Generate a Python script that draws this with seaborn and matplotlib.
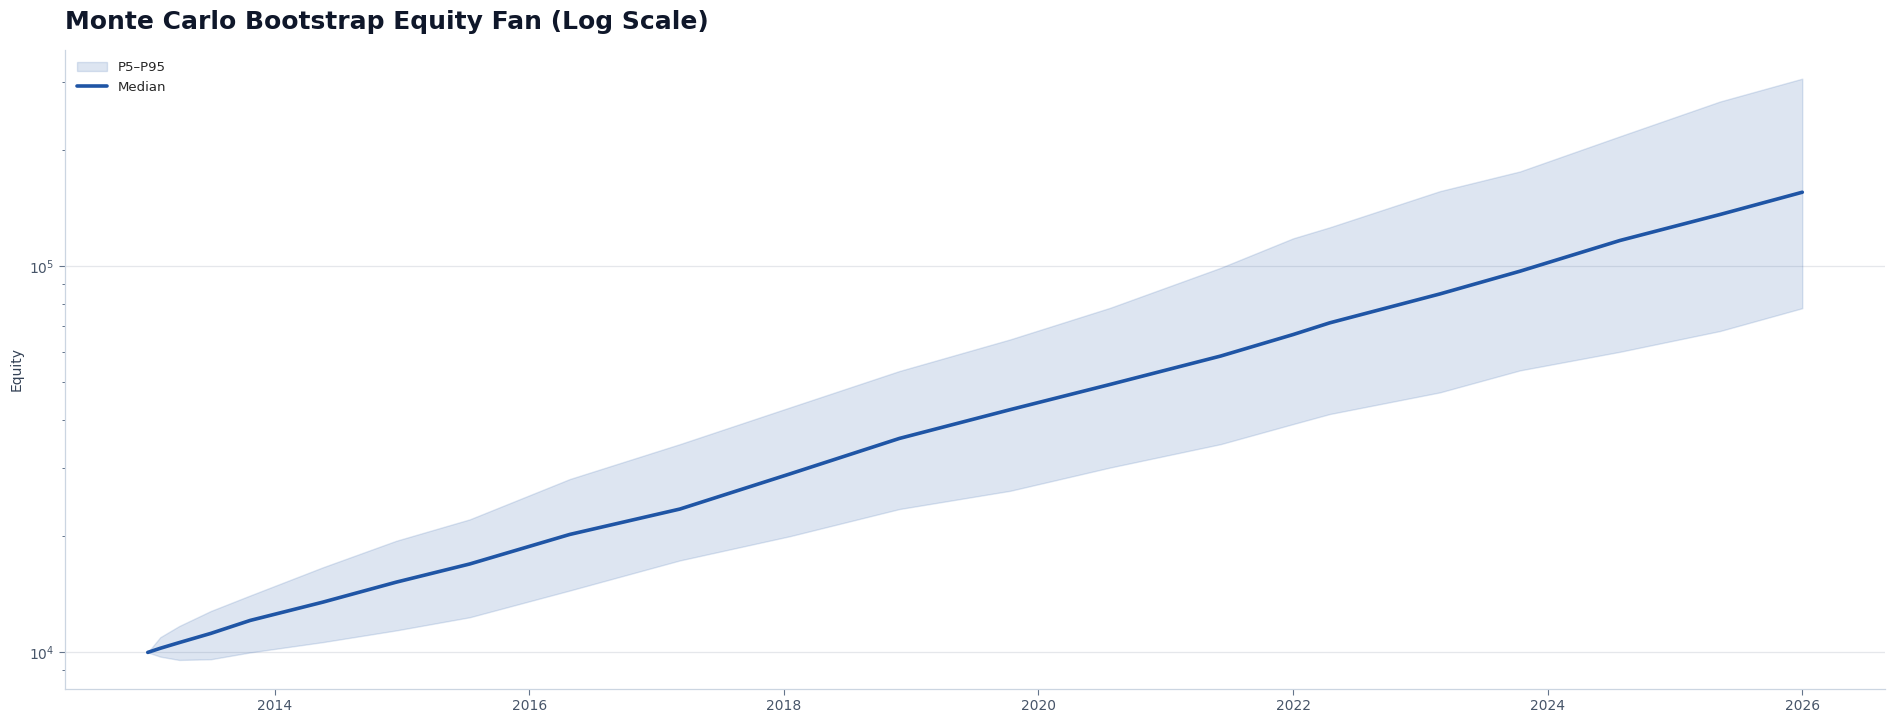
import pandas as pd
import numpy as np
import matplotlib
matplotlib.use("Agg")
import matplotlib.pyplot as plt
import matplotlib.dates as mdates
import seaborn as sns

# ==========================================
# data
# ==========================================
dates = [
    "2013-01-01", "2013-02-06", "2013-04-01", "2013-07-01", "2013-10-22",
    "2014-05-18", "2014-12-15", "2015-07-14", "2016-04-26", "2017-03-08",
    "2018-01-19", "2018-11-28", "2019-10-12", "2020-07-25", "2021-06-07",
    "2022-01-01", "2022-04-16", "2023-02-26", "2023-10-14", "2024-07-27",
    "2025-05-10", "2026-01-01",
]
p5 = [
    10000, 9750, 9560, 9600, 10000,
    10630, 11400, 12330, 14460, 17300,
    20000, 23500, 26200, 30100, 34600,
    39000, 41400, 47100, 53700, 60000,
    67900, 77800,
]
median = [
    10000, 10250, 10600, 11200, 12100,
    13490, 15200, 16940, 20200, 23500,
    29000, 35800, 42500, 49400, 58500,
    66500, 71300, 84700, 97000, 116500,
    136000, 155300,
]
p95 = [
    10000, 10950, 11700, 12800, 14040,
    16600, 19450, 22100, 28100, 34600,
    43100, 53500, 64600, 78000, 99000,
    118000, 126000, 156300, 175800, 216800,
    266700, 305600,
]

df = pd.DataFrame({"date": pd.to_datetime(dates), "p5": p5, "median": median, "p95": p95})

# ==========================================
# style
# ==========================================
sns.set_theme(style="ticks")
plt.rcParams["font.family"] = ["DejaVu Sans"]

blue = "#1f55a5"
slate = "#475569"
spine_c = "#cbd5e1"

fig = plt.figure(figsize=(18.96, 7.23), dpi=100)
ax = fig.add_axes([0.0343, 0.047, 0.9599, 0.8844])

ax.fill_between(df["date"], df["p5"], df["p95"], color=blue, alpha=0.15, label="P5–P95")
sns.lineplot(data=df, x="date", y="median", ax=ax, color=blue, linewidth=2.6, label="Median")

ax.set_yscale("log")
ax.margins(x=0.05, y=0.05)

ax.xaxis.set_major_locator(mdates.YearLocator(2))
ax.xaxis.set_major_formatter(mdates.DateFormatter("%Y"))

ax.set_title("Monte Carlo Bootstrap Equity Fan (Log Scale)", loc="left",
             fontsize=18, fontweight="bold", color="#0f172a", pad=15)
ax.set_xlabel("")
ax.set_ylabel("Equity", fontsize=10, color="#334155")

ax.yaxis.grid(True, which="major", color="#e5e7eb", linewidth=0.9)
ax.xaxis.grid(False)

for s in ["top", "right"]:
    ax.spines[s].set_visible(False)
for s in ["left", "bottom"]:
    ax.spines[s].set_color(spine_c)
    ax.spines[s].set_linewidth(0.9)

ax.tick_params(axis="both", which="major", labelsize=10, colors=slate, length=4, width=0.8)
ax.tick_params(axis="both", which="major", color="#64748b")
ax.tick_params(axis="y", which="minor", length=2.5, width=0.7, color="#64748b")

leg = ax.legend(loc="upper left", frameon=False, fontsize=9.5, handlelength=2.3)

fig.savefig("out.png", dpi=100)
